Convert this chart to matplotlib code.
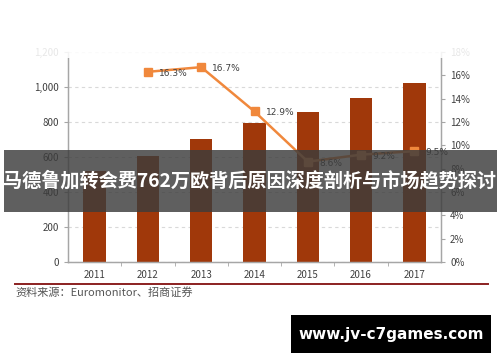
import matplotlib.pyplot as plt
from matplotlib.patches import Rectangle
from matplotlib.ticker import FuncFormatter, FixedLocator

plt.rcParams['font.family'] = ['Noto Sans CJK SC', 'DejaVu Sans']

years = ['2011', '2012', '2013', '2014', '2015', '2016', '2017']
sales = [520, 606, 703, 794, 857, 937, 1025]
growth_years = ['2012', '2013', '2014', '2015', '2016', '2017']
growth = [16.3, 16.7, 12.9, 8.6, 9.2, 9.5]
growth_labels = ['16.3%', '16.7%', '12.9%', '8.6%', '9.2%', '9.5%']

title = '马德鲁加转会费762万欧背后原因深度剖析与市场趋势探讨'
source = '资料来源：Euromonitor、招商证券'
site = 'www.jv-c7games.com'

bar_color = '#A0380A'
line_color = '#F0883C'
axis_color = '#A6A6A6'
text_color = '#404040'

fig = plt.figure(figsize=(5, 3.62), dpi=100)
fig.patch.set_facecolor('white')

ax = fig.add_axes([0.136, 0.2762, 0.746, 0.5802])
x = list(range(len(years)))
ax.bar(x, sales, width=0.42, color=bar_color, zorder=2)
ax.set_xlim(-0.5, len(years) - 0.5)
ax.set_ylim(0, 1200)
ax.set_yticks([0, 200, 400, 600, 800, 1000, 1200])
ax.yaxis.set_major_formatter(FuncFormatter(lambda v, p: f'{int(v):,}'))
ax.set_xticks(x)
ax.set_xticklabels(years)
ax.xaxis.set_minor_locator(FixedLocator([i + 0.5 for i in x[:-1]]))
ax.tick_params(axis='x', which='major', length=0, labelsize=7, colors=text_color, pad=6)
ax.tick_params(axis='x', which='minor', length=3, color=axis_color, direction='out')
ax.tick_params(axis='y', length=3, color=axis_color, labelsize=7, labelcolor=text_color)
ax.grid(axis='y', linestyle=(0, (3, 3)), color='#D9D9D9', linewidth=0.8, zorder=0)
ax.set_axisbelow(True)
ax.spines['top'].set_visible(False)
for s in ['left', 'bottom', 'right']:
    ax.spines[s].set_color(axis_color)
    ax.spines[s].set_linewidth(1.0)

ax2 = ax.twinx()
gx = [years.index(y) for y in growth_years]
ax2.plot(gx, growth, color=line_color, linewidth=1.8, marker='s', markersize=6,
         markerfacecolor=line_color, markeredgecolor=line_color, zorder=3)
for xi, yi, lab in zip(gx, growth, growth_labels):
    ax2.annotate(lab, (xi, yi), xytext=(8, -1), textcoords='offset points',
                 ha='left', va='center', fontsize=6.5, color=text_color,
                 family=['DejaVu Sans'])
ax2.set_ylim(0, 18)
ax2.set_yticks(range(0, 19, 2))
ax2.yaxis.set_major_formatter(FuncFormatter(lambda v, p: f'{int(v)}%'))
ax2.tick_params(axis='y', length=3, color=axis_color, labelsize=7, labelcolor=text_color)
ax2.spines['top'].set_visible(False)
for s in ['left', 'bottom', 'right']:
    ax2.spines[s].set_color(axis_color)

# faded top edge (the reference is cut just above the axes)
fig.add_artist(Rectangle((0, 1 - 58 / 362), 1, 58 / 362,
                         transform=fig.transFigure, facecolor='white',
                         alpha=0.88, edgecolor='none', zorder=9))

# source line and text
fig.add_artist(plt.Line2D([0.03, 0.976], [1 - 284 / 362, 1 - 284 / 362],
                          color='#8B2020', linewidth=1.4))
fig.text(0.03, 1 - 292 / 362, source, fontsize=8, color='#555555',
         ha='left', va='center')

# title banner
fig.add_artist(Rectangle((0.008, 1 - 212 / 362), 0.986, 62 / 362,
                         transform=fig.transFigure, facecolor='#3C3C3C',
                         alpha=0.82, edgecolor='none', zorder=10))
fig.text(0.5, 1 - 181 / 362, title, fontsize=13.8, fontweight='bold',
         color='white', ha='center', va='center', zorder=11)

# site box
fig.add_artist(Rectangle((291 / 500, 1 - 353 / 362), 200 / 500, 38 / 362,
                         transform=fig.transFigure, facecolor='black',
                         edgecolor='none', zorder=10))
fig.text(391 / 500, 1 - 334 / 362, site, fontsize=11, fontweight='bold',
         color='white', ha='center', va='center', zorder=11,
         family=['DejaVu Sans'])

fig.savefig('out.png', dpi=100)
